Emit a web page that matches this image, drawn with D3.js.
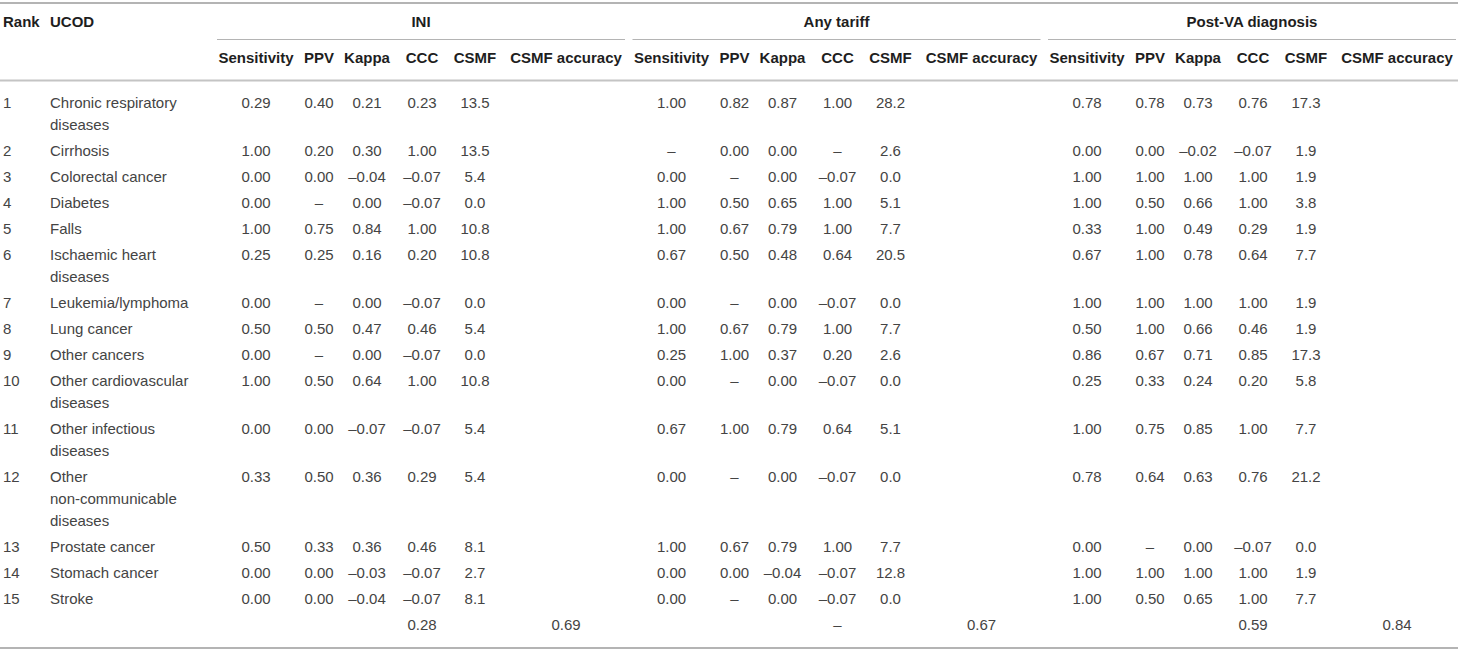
<!DOCTYPE html>
<html>
<head>
<meta charset="utf-8">
<script src="https://cdn.jsdelivr.net/npm/d3@7"></script>
<style>
  body { margin: 0; background: #fff; }
  text { font-family: "Liberation Sans", Arial, sans-serif; font-size: 15px; }
  .body { fill: #444; }
  .head { fill: #1e1e1e; font-weight: bold; }
</style>
</head>
<body>
<svg id="table" width="1458" height="651"></svg>
<script>
var ranks = [1,2,3,4,5,6,7,8,9,10,11,12,13,14,15];
var causes = ["Chronic respiratory\ndiseases", "Cirrhosis", "Colorectal cancer", "Diabetes", "Falls",
  "Ischaemic heart\ndiseases", "Leukemia/lymphoma", "Lung cancer", "Other cancers",
  "Other cardiovascular\ndiseases", "Other infectious\ndiseases", "Other\nnon-communicable\ndiseases",
  "Prostate cancer", "Stomach cancer", "Stroke"];
var methods = ["INI", "Any tariff", "Post-VA diagnosis"];
var metrics = ["Sensitivity", "PPV", "Kappa", "CCC", "CSMF", "CSMF accuracy"];

// null = "–" in the table
var iniSens  = [0.29,1.00,0.00,0.00,1.00,0.25,0.00,0.50,0.00,1.00,0.00,0.33,0.50,0.00,0.00];
var iniPPV   = [0.40,0.20,0.00,null,0.75,0.25,null,0.50,null,0.50,0.00,0.50,0.33,0.00,0.00];
var iniKappa = [0.21,0.30,-0.04,0.00,0.84,0.16,0.00,0.47,0.00,0.64,-0.07,0.36,0.36,-0.03,-0.04];
var iniCCC   = [0.23,1.00,-0.07,-0.07,1.00,0.20,-0.07,0.46,-0.07,1.00,-0.07,0.29,0.46,-0.07,-0.07];
var iniCSMF  = [13.5,13.5,5.4,0.0,10.8,10.8,0.0,5.4,0.0,10.8,5.4,5.4,8.1,2.7,8.1];

var tarSens  = [1.00,null,0.00,1.00,1.00,0.67,0.00,1.00,0.25,0.00,0.67,0.00,1.00,0.00,0.00];
var tarPPV   = [0.82,0.00,null,0.50,0.67,0.50,null,0.67,1.00,null,1.00,null,0.67,0.00,null];
var tarKappa = [0.87,0.00,0.00,0.65,0.79,0.48,0.00,0.79,0.37,0.00,0.79,0.00,0.79,-0.04,0.00];
var tarCCC   = [1.00,null,-0.07,1.00,1.00,0.64,-0.07,1.00,0.20,-0.07,0.64,-0.07,1.00,-0.07,-0.07];
var tarCSMF  = [28.2,2.6,0.0,5.1,7.7,20.5,0.0,7.7,2.6,0.0,5.1,0.0,7.7,12.8,0.0];

var vaSens   = [0.78,0.00,1.00,1.00,0.33,0.67,1.00,0.50,0.86,0.25,1.00,0.78,0.00,1.00,1.00];
var vaPPV    = [0.78,0.00,1.00,0.50,1.00,1.00,1.00,1.00,0.67,0.33,0.75,0.64,null,1.00,0.50];
var vaKappa  = [0.73,-0.02,1.00,0.66,0.49,0.78,1.00,0.66,0.71,0.24,0.85,0.63,0.00,1.00,0.65];
var vaCCC    = [0.76,-0.07,1.00,1.00,0.29,0.64,1.00,0.46,0.85,0.20,1.00,0.76,-0.07,1.00,1.00];
var vaCSMF   = [17.3,1.9,1.9,3.8,1.9,7.7,1.9,1.9,17.3,5.8,7.7,21.2,0.0,1.9,7.7];

// summary row: overall CCC and CSMF accuracy per method
var summaryCCC = [0.28, null, 0.59];
var summaryAcc = [0.69, 0.67, 0.84];

var columns = [
  [iniSens, iniPPV, iniKappa, iniCCC, iniCSMF],
  [tarSens, tarPPV, tarKappa, tarCCC, tarCSMF],
  [vaSens, vaPPV, vaKappa, vaCCC, vaCSMF]
];

var svg = d3.select("#table");
var W = 1458;

var groupX = d3.scaleLinear().domain([0, 1]).range([0, 415.5]);
var metricX = d3.scaleOrdinal().domain(metrics).range([256, 319, 367, 422, 475, 566]);
function colX(g, m) { return groupX(g) + metricX(m); }

var f2 = d3.format(".2f"), f1 = d3.format(".1f");
function fmt(v, m) {
  if (v === null) return "\u2013";
  var s = (m === "CSMF" ? f1 : f2)(v);
  return s.replace("-", "\u2013").replace("\u2212", "\u2013");
}

// rules
function hline(x1, x2, y, w, c) {
  svg.append("line").attr("x1", x1).attr("x2", x2).attr("y1", y).attr("y2", y)
    .attr("stroke", c).attr("stroke-width", w);
}
hline(0, W, 3, 2, "#b4b4b4");
hline(0, W, 80.5, 2, "#c4c4c4");

// header
svg.append("text").attr("class", "head").attr("x", 3).attr("y", 27).text("Rank");
svg.append("text").attr("class", "head").attr("x", 50).attr("y", 27).text("UCOD");

methods.forEach(function(name, g) {
  var x1 = groupX(g) + 217, x2 = Math.min(groupX(g) + 625, W);
  hline(x1, x2, 39.5, 1.2, "#b4b4b4");
  svg.append("text").attr("class", "head").attr("x", (x1 + x2) / 2).attr("y", 27)
    .attr("text-anchor", "middle").text(name);
  metrics.forEach(function(m) {
    svg.append("text").attr("class", "head").attr("x", colX(g, m)).attr("y", 63)
      .attr("text-anchor", "middle").text(m);
  });
});

// body rows: baseline of each row follows the line count of the rows above
var lineH = 22, rowPad = 4;
var baselines = [];
var y = 108;
causes.forEach(function(c) {
  baselines.push(y);
  y += rowPad + lineH * c.split("\n").length;
});
var summaryY = y;

var rows = svg.selectAll("g.row").data(causes).enter().append("g").attr("class", "row")
  .attr("transform", function(d, i) { return "translate(0," + baselines[i] + ")"; });

rows.append("text").attr("class", "body").attr("x", 3).attr("y", 0)
  .text(function(d, i) { return ranks[i]; });

rows.append("text").attr("class", "body").attr("x", 50).attr("y", 0)
  .each(function(d) {
    var t = d3.select(this);
    d.split("\n").forEach(function(line, k) {
      t.append("tspan").attr("x", 50).attr("dy", k === 0 ? 0 : lineH).text(line);
    });
  });

rows.each(function(d, i) {
  var r = d3.select(this);
  columns.forEach(function(cols, g) {
    cols.forEach(function(arr, k) {
      var m = metrics[k];
      r.append("text").attr("class", "body").attr("x", colX(g, m)).attr("y", 0)
        .attr("text-anchor", "middle").text(fmt(arr[i], m));
    });
  });
});

// summary row
methods.forEach(function(name, g) {
  svg.append("text").attr("class", "body").attr("x", colX(g, "CCC")).attr("y", summaryY)
    .attr("text-anchor", "middle").text(fmt(summaryCCC[g], "CCC"));
  svg.append("text").attr("class", "body").attr("x", colX(g, "CSMF accuracy")).attr("y", summaryY)
    .attr("text-anchor", "middle").text(fmt(summaryAcc[g], "CSMF accuracy"));
});

hline(0, W, summaryY + 18, 2, "#b4b4b4");
</script>
</body>
</html>
